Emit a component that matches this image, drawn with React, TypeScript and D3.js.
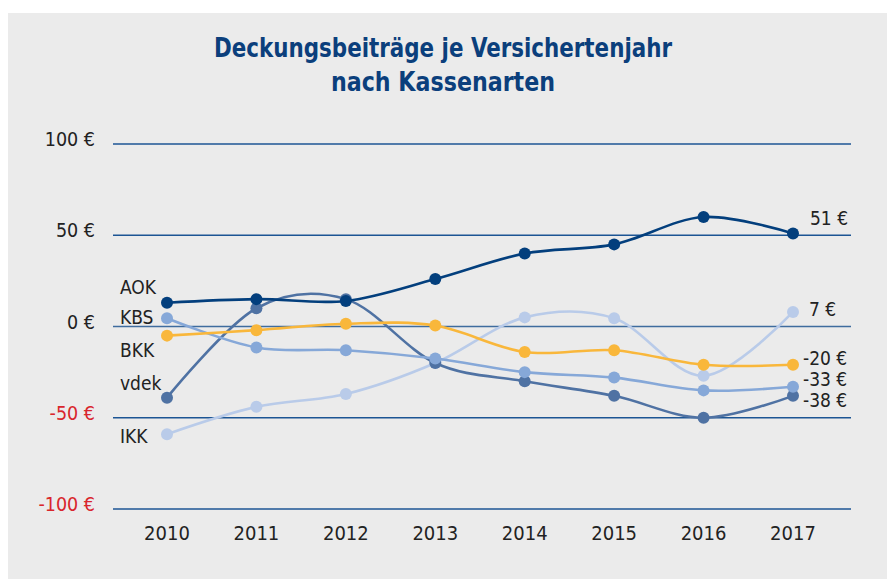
import React from "react";
import * as d3 from "d3";

const years = ["2010", "2011", "2012", "2013", "2014", "2015", "2016", "2017"];
const aok = [13, 15, 14, 26, 40, 45, 60, 51];
const kbs = [4.5, -11.5, -13, -17.5, -25, -28, -35, -33];
const bkk = [-5, -2, 1.5, 0.5, -14, -13, -21, -21];
const vdek = [-39, 10, 15, -20, -30, -38, -50, -38];
const ikk = [-59, -44, -37, -20, 5, 4.5, -27, 8];
const yTicks = [100, 50, 0, -50, -100];
const tickLabels = ["100 €", "50 €", "0 €", "-50 €", "-100 €"];

const seriesNames = ["IKK", "vdek", "KBS", "BKK", "AOK"];
const seriesValues = [ikk, vdek, kbs, bkk, aok];
const seriesColors = ["#b9cbe9", "#4f72a3", "#86a8d8", "#f9b73b", "#033f7d"];
const leftLabels = [
  { name: "AOK", dy: 294 },
  { name: "KBS", dy: 324 },
  { name: "BKK", dy: 357 },
  { name: "vdek", dy: 390 },
  { name: "IKK", dy: 443 },
];
const rightLabels = ["51 €", "7 €", "-20 €", "-33 €", "-38 €"];
const rightLabelY = [225, 316, 365, 386, 407];
const rightLabelX = [810, 809, 803, 803, 803];

const W = 887;
const H = 579;
const font = "'Liberation Sans Narrow', 'DejaVu Sans Condensed', 'Roboto', sans-serif";

export default function App() {
  const x = d3
    .scalePoint<string>()
    .domain(years)
    .range([167, 793]);
  const y = d3.scaleLinear().domain([-100, 100]).range([509, 144]);
  const line = d3
    .line<number>()
    .x((_, i) => x(years[i]) as number)
    .y((d) => y(d))
    .curve(d3.curveCardinal.tension(0));

  return (
    <svg
      width={W}
      height={H}
      style={{ position: "absolute", left: 0, top: 0 }}
      viewBox={`0 0 ${W} ${H}`}
    >
      <rect x={8} y={13} width={W - 8} height={H - 13} fill="#ebebeb" />
      <text
        x={443}
        y={57}
        textAnchor="middle"
        fill="#0b3f7c"
        fontFamily={font}
        fontWeight="bold"
        fontSize={27}
        textLength={458}
        lengthAdjust="spacingAndGlyphs"
      >
        Deckungsbeiträge je Versichertenjahr
      </text>
      <text
        x={443}
        y={91}
        textAnchor="middle"
        fill="#0b3f7c"
        fontFamily={font}
        fontWeight="bold"
        fontSize={27}
        textLength={224}
        lengthAdjust="spacingAndGlyphs"
      >
        nach Kassenarten
      </text>
      {yTicks.map((t, i) => (
        <g key={t}>
          <line
            x1={113}
            x2={851}
            y1={y(t)}
            y2={y(t)}
            stroke={t === 0 ? "#3f6c9e" : "#1c5594"}
            strokeWidth={1.6}
          />
          <text
            x={95}
            y={y(t) + 2}
            textAnchor="end"
            fontFamily={font}
            fontSize={19.5}
            fill={t < 0 ? "#d9262c" : "#222"}
          >
            {tickLabels[i]}
          </text>
        </g>
      ))}
      {years.map((yr) => (
        <text
          key={yr}
          x={x(yr)}
          y={540}
          textAnchor="middle"
          fontFamily={font}
          fontSize={20}
          fill="#222"
        >
          {yr}
        </text>
      ))}
      {seriesValues.map((vals, si) => (
        <g key={seriesNames[si]}>
          <path
            d={line(vals) || ""}
            fill="none"
            stroke={seriesColors[si]}
            strokeWidth={2.6}
          />
          {vals.map((v, i) => (
            <circle
              key={i}
              cx={x(years[i])}
              cy={y(v)}
              r={6}
              fill={seriesColors[si]}
            />
          ))}
        </g>
      ))}
      {leftLabels.map((l) => (
        <text
          key={l.name}
          x={120}
          y={l.dy}
          fontFamily={font}
          fontSize={19}
          fill="#222"
        >
          {l.name}
        </text>
      ))}
      {rightLabels.map((l, i) => (
        <text
          key={l}
          x={rightLabelX[i]}
          y={rightLabelY[i]}
          fontFamily={font}
          fontSize={19}
          fill="#222"
        >
          {l}
        </text>
      ))}
    </svg>
  );
}
